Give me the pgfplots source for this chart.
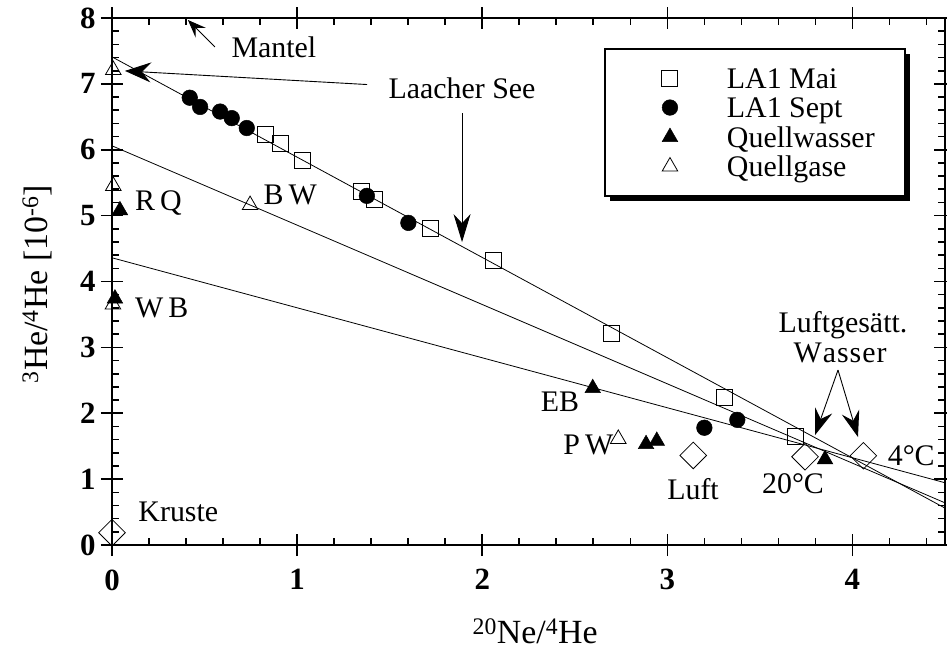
\documentclass[border=0pt]{standalone}
\usepackage{fontspec}
\setmainfont{Liberation Serif}
\usepackage{pgfplots}
\pgfplotsset{compat=1.18}
\usetikzlibrary{arrows.meta,shadows}
\pgfplotsset{myleg/.style={legend image code/.code={\pgfpathmoveto{\pgfpoint{-35bp}{0bp}}\pgfpathlineto{\pgfpoint{10bp}{0bp}}\pgfusepath{}\draw[##1] plot coordinates {(0bp,0bp)};}}}
\begin{document}
\begin{tikzpicture}
\path[use as bounding box] (-112bp,-104bp) rectangle (835bp,545bp);
% minor ticks (inside)
\begin{axis}[
  scale only axis, width=833bp, height=527bp,
  xmin=0,xmax=4.5,ymin=0,ymax=8,
  xtick={0.2,0.4,0.6,0.8,1.2,1.4,1.6,1.8,2.2,2.4,2.6,2.8,3.2,3.4,3.6,3.8,4.2,4.4},
  ytick={0.2,0.4,0.6,0.8,1.2,1.4,1.6,1.8,2.2,2.4,2.6,2.8,3.2,3.4,3.6,3.8,4.2,4.4,4.6,4.8,5.2,5.4,5.6,5.8,6.2,6.4,6.6,6.8,7.2,7.4,7.6,7.8},
  xticklabels={}, yticklabels={},
  tick align=inside, major tick length=7bp,
  every tick/.style={black,line width=1.6bp},
  axis line style={line width=2.4bp},
]
\end{axis}
\begin{axis}[
  scale only axis, width=833bp, height=527bp,
  xmin=0,xmax=4.5,ymin=0,ymax=8,
  xtick={0,1,2,3,4}, ytick={0,1,2,3,4,5,6,7,8},
  tick align=center, major tick length=22bp,
  every tick/.style={black,line width=1.6bp},
  axis line style={line width=2.4bp},
  clip=false,
  /pgf/number format/assume math mode=true,
  tick label style={font=\fontsize{31}{34}\selectfont\bfseries},
  xticklabel style={yshift=-10bp},
  yticklabel style={xshift=-2bp},
  xlabel={\textsuperscript{20}Ne/\textsuperscript{4}He},
  ylabel={\textsuperscript{3}He/\textsuperscript{4}He [10\textsuperscript{-6}]},
  label style={font=\fontsize{34}{38}\selectfont},
  xlabel style={at={(axis description cs:0.508,0)}, anchor=base, yshift=-98bp},
  ylabel style={at={(axis description cs:-0.078,0.495)}, anchor=base},
  legend style={at={(rel axis cs:0.5906,0.943)}, anchor=north west,
    draw=black, line width=2bp, fill=white,
    font=\fontsize{30}{34}\selectfont,
    nodes={inner sep=0bp, text height=20bp, text depth=0bp},
    inner xsep=30bp, inner ysep=19bp, row sep=9.5bp, column sep=47bp,
    drop shadow={shadow xshift=5bp, shadow yshift=-5bp, fill=black, opacity=1},
    legend cell align=left},
]
% mixing lines
\addplot[forget plot, line width=0.8bp] coordinates {(0,7.41) (4.5,0.56)};
\addplot[forget plot, line width=0.8bp] coordinates {(0,6.06) (4.5,0.64)};
\addplot[forget plot, line width=0.8bp] coordinates {(0,4.36) (4.5,0.945)};
% end members (diamonds)
\addplot[forget plot, only marks, mark=square, mark size=9.4bp, mark options={rotate=45, line width=0.8bp}]
  coordinates {(0,0.187) (3.14,1.36) (3.744,1.34) (4.059,1.355)};
% LA1 Mai
\addplot[only marks, mark=square, mark size=8bp, mark options={line width=1bp}, myleg]
  coordinates {(0.83,6.23) (0.91,6.09) (1.03,5.83) (1.35,5.36) (1.42,5.24) (1.718,4.806) (2.06,4.32) (2.70,3.21) (3.31,2.24) (3.69,1.64)};
\addlegendentry{LA1 Mai}
% LA1 Sept
\addplot[only marks, mark=*, mark size=7.8bp, mark options={fill=black, line width=0.5bp}, myleg]
  coordinates {(0.42,6.79) (0.476,6.65) (0.584,6.58) (0.647,6.48) (0.728,6.33) (1.377,5.30) (1.601,4.89) (3.20,1.78) (3.378,1.90)};
\addlegendentry{LA1 Sept}
% Quellwasser
\addplot[only marks, mark=triangle*, mark size=9bp, mark options={fill=black, line width=0.5bp}, myleg]
  coordinates {(0.043,5.08) (0.016,3.74) (2.597,2.38) (2.885,1.53) (2.943,1.58) (3.852,1.30)};
\addlegendentry{Quellwasser}
% Quellgase
\addplot[only marks, mark=triangle, mark size=9bp, mark options={line width=0.8bp}, myleg]
  coordinates {(0.007,7.21) (0.007,5.45) (0.005,3.65) (0.746,5.16) (2.735,1.61)};
\addlegendentry{Quellgase}
% annotations
\begin{scope}[font=\fontsize{30}{34}\selectfont]
\node[anchor=base west] at (axis cs:0.627,7.405) {Mantel};
\node[anchor=base] at (axis cs:1.891,6.778) {Laacher See};
\node[anchor=base] at (axis cs:3.949,3.227) {Luftgesätt.};
\node[anchor=base] at (axis cs:3.933,2.767) {W\kern1bp a\kern1bp s\kern1bp s\kern1bp e\kern1bp r};
\node[anchor=base west] at (axis cs:4.172,1.204) {4°C};
\node[anchor=base] at (axis cs:3.679,0.785) {20°C};
\node[anchor=base] at (axis cs:3.139,0.693) {Luft};
\node[anchor=base] at (axis cs:2.42,2.023) {EB};
\node[anchor=base west] at (axis cs:2.42,1.381) {P\kern5bp W};
\node[anchor=base west] at (axis cs:0.106,5.073) {R\kern5bp Q};
\node[anchor=base west] at (axis cs:0.106,3.455) {W\kern5bp B};
\node[anchor=base west] at (axis cs:0.80,5.175) {B\kern5bp W};
\node[anchor=base west] at (axis cs:0.124,0.354) {Kruste};
\end{scope}
\draw[line width=0.9bp, -{Stealth[length=18bp,width=14bp,inset=7bp]}] (axis cs:0.556,7.56) -- (axis cs:0.41,7.97);
\draw[line width=0.9bp, -{Stealth[length=26bp,width=20bp,inset=9bp]}] (axis cs:1.378,6.99) -- (axis cs:0.070,7.197);
\draw[line width=0.9bp, -{Stealth[length=28bp,width=17bp,inset=9bp]}] (axis cs:1.891,6.555) -- (axis cs:1.891,4.598);
\draw[line width=0.9bp, -{Stealth[length=26bp,width=18bp,inset=9bp]}] (axis cs:3.922,2.656) -- (axis cs:3.798,1.669);
\draw[line width=0.9bp, -{Stealth[length=26bp,width=18bp,inset=9bp]}] (axis cs:3.922,2.656) -- (axis cs:4.030,1.639);
\end{axis}
\end{tikzpicture}
\end{document}
